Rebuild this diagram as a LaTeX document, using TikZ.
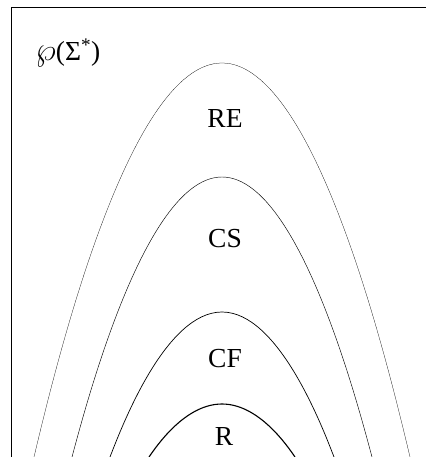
\documentclass[tikz,border=0pt]{standalone}
\usepackage{fontspec}
\setmainfont{Liberation Serif}
\usepackage{amsmath,amssymb}

\tikzset{
	classlabel/.style={font=\fontsize{27.5}{30}\selectfont, inner sep=0pt}
}

\begin{document}
\begin{tikzpicture}[x=1pt,y=1pt]
		\useasboundingbox (0,0) rectangle (426,457);
		
		%Frame
		\coordinate (frameBL) at (11,0);
		\coordinate (frameTL) at (11,450);
		\coordinate (frameTR) at (426,450);
		\draw[black,line width=0.8pt] (frameBL) -- (frameTL) -- (frameTR);
		
		%Classes
		\coordinate (reTop) at (222,394);
		\coordinate (csTop) at (222,280);
		\coordinate (cfTop) at (222,145);
		\coordinate (rTop) at (222,53);
		
		\draw[black,line width=0.25pt] (34,0) parabola bend (reTop) (410,0);
		\draw[black,line width=0.45pt] (72,0) parabola bend (csTop) (372,0);
		\draw[black,line width=0.7pt] (110,0) parabola bend (cfTop) (334,0);
		\draw[black,line width=1.1pt] (149,0) parabola bend (rTop) (295,0);
		
		%Annotations
		\node[classlabel] (re) at (225,338) {RE};
		\node[classlabel] (cs) at (225,218) {CS};
		\node[classlabel] (cf) at (225,98) {CF};
		\node[classlabel] (r) at (224,21) {R};
		\node[classlabel] (powerset) at (68,404) {\scalebox{1.3}{$\wp$}(Σ$^{\text{*}}$)};
		
	\end{tikzpicture}
\end{document}
